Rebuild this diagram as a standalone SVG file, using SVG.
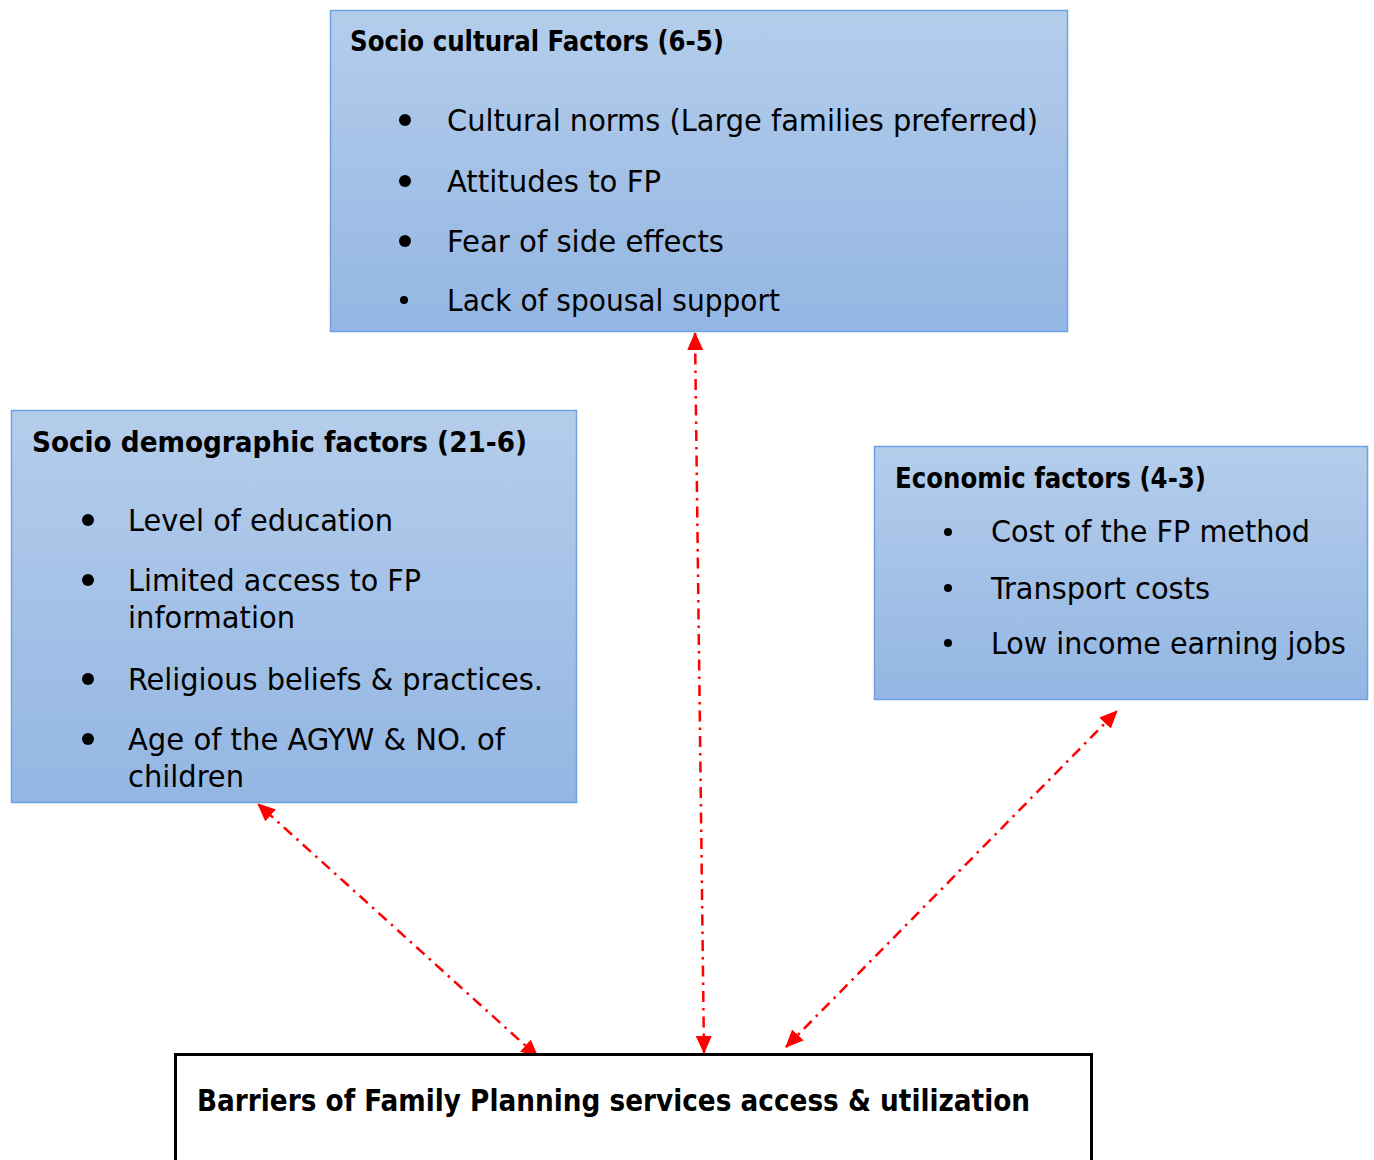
<svg xmlns="http://www.w3.org/2000/svg" width="1374" height="1160" viewBox="0 0 1374 1160">
  <style>
    .box { stroke: #6ea2e0; stroke-width: 1.5; }
    .title { font-family: "DejaVu Sans Condensed", "DejaVu Sans", sans-serif; font-weight: bold; font-size: 29px; fill: #000; }
    .item { font-family: "DejaVu Sans Condensed", "DejaVu Sans", sans-serif; font-size: 31px; fill: #000; }
    .bullet { fill: #000; }
    .link { fill: none; stroke: #ff0000; stroke-width: 2.5; stroke-dasharray: 11 6 2.5 6; marker-start: url(#head); marker-end: url(#head); }
  </style>
  <defs>
    <linearGradient id="blueFill" x1="0" y1="0" x2="0" y2="1">
      <stop offset="0" stop-color="#b4cdeb"/>
      <stop offset="1" stop-color="#93b6e3"/>
    </linearGradient>
    <marker id="head" viewBox="0 0 18 16" refX="17" refY="8" markerWidth="18" markerHeight="16" markerUnits="userSpaceOnUse" orient="auto-start-reverse">
      <path d="M0,0 L18,8 L0,16 z" fill="#ff0000"/>
    </marker>
  </defs>
  <rect width="1374" height="1160" fill="#ffffff"/>

  <!-- connectors -->
  <g id="connectors">
    <line class="link" x1="704" y1="1053" x2="695" y2="333"/>
    <line class="link" x1="538" y1="1057" x2="258" y2="804"/>
    <line class="link" x1="786" y1="1047" x2="1117" y2="711"/>
  </g>

  <!-- socio-cultural factors -->
  <g id="socio-cultural">
    <rect class="box" x="330.5" y="10.5" width="737" height="321" fill="url(#blueFill)"/>
    <text class="title" x="350" y="51" textLength="374" lengthAdjust="spacingAndGlyphs">Socio cultural Factors (6-5)</text>
    <circle class="bullet" cx="405" cy="120" r="6"/>
    <circle class="bullet" cx="405" cy="181" r="6"/>
    <circle class="bullet" cx="405" cy="241" r="6"/>
    <circle class="bullet" cx="404" cy="300" r="4"/>
    <text class="item" x="447" y="131" textLength="591" lengthAdjust="spacingAndGlyphs">Cultural norms (Large families preferred)</text>
    <text class="item" x="447" y="192" textLength="214" lengthAdjust="spacingAndGlyphs">Attitudes to FP</text>
    <text class="item" x="447" y="252" textLength="277" lengthAdjust="spacingAndGlyphs">Fear of side effects</text>
    <text class="item" x="447" y="311" textLength="333" lengthAdjust="spacingAndGlyphs">Lack of spousal support</text>
  </g>

  <!-- socio-demographic factors -->
  <g id="socio-demographic">
    <rect class="box" x="11.5" y="410.5" width="565" height="392" fill="url(#blueFill)"/>
    <text class="title" x="32" y="452" textLength="495" lengthAdjust="spacingAndGlyphs">Socio demographic factors (21-6)</text>
    <circle class="bullet" cx="88" cy="520" r="6"/>
    <circle class="bullet" cx="88" cy="580" r="6"/>
    <circle class="bullet" cx="88" cy="679" r="6"/>
    <circle class="bullet" cx="88" cy="739" r="6"/>
    <text class="item" x="128" y="531" textLength="265" lengthAdjust="spacingAndGlyphs">Level of education</text>
    <text class="item" x="128" y="591" textLength="293" lengthAdjust="spacingAndGlyphs">Limited access to FP</text>
    <text class="item" x="128" y="628" textLength="167" lengthAdjust="spacingAndGlyphs">information</text>
    <text class="item" x="128" y="690" textLength="415" lengthAdjust="spacingAndGlyphs">Religious beliefs &amp; practices.</text>
    <text class="item" x="128" y="750" textLength="377" lengthAdjust="spacingAndGlyphs">Age of the AGYW &amp; NO. of</text>
    <text class="item" x="128" y="787" textLength="116" lengthAdjust="spacingAndGlyphs">children</text>
  </g>

  <!-- economic factors -->
  <g id="economic">
    <rect class="box" x="874.5" y="446.5" width="493" height="253" fill="url(#blueFill)"/>
    <text class="title" x="895" y="488" textLength="311" lengthAdjust="spacingAndGlyphs">Economic factors (4-3)</text>
    <circle class="bullet" cx="948" cy="532" r="4"/>
    <circle class="bullet" cx="948" cy="588" r="4"/>
    <circle class="bullet" cx="948" cy="643" r="4"/>
    <text class="item" x="991" y="542" textLength="319" lengthAdjust="spacingAndGlyphs">Cost of the FP method</text>
    <text class="item" x="991" y="599" textLength="219" lengthAdjust="spacingAndGlyphs">Transport costs</text>
    <text class="item" x="991" y="654" textLength="355" lengthAdjust="spacingAndGlyphs">Low income earning jobs</text>
  </g>

  <!-- outcome box -->
  <g id="barriers">
    <rect x="175.5" y="1054.5" width="916" height="130" fill="#ffffff" stroke="#000000" stroke-width="3"/>
    <text class="title" x="197" y="1111" textLength="833" lengthAdjust="spacingAndGlyphs" style="font-size:30px">Barriers of Family Planning services access &amp; utilization</text>
  </g>
</svg>
